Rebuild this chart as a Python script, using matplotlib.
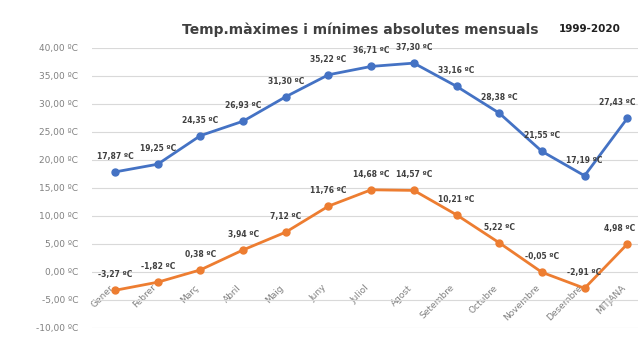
import matplotlib
matplotlib.use("Agg")
import matplotlib.pyplot as plt

months = ["Gener", "Febrer", "Març", "Abril", "Maig", "Juny", "Juliol", "Agost",
          "Setembre", "Octubre", "Novembre", "Desembre", "MITJANA"]
t_max = [17.87, 19.25, 24.35, 26.93, 31.30, 35.22, 36.71, 37.30, 33.16, 28.38, 21.55, 17.19, 27.43]
t_min = [-3.27, -1.82, 0.38, 3.94, 7.12, 11.76, 14.68, 14.57, 10.21, 5.22, -0.05, -2.91, 4.98]
y_ticks = [-10, -5, 0, 5, 10, 15, 20, 25, 30, 35, 40]

BLUE = "#4472C4"
ORANGE = "#ED7D31"
W, H = 638, 351

fig = plt.figure(figsize=(W / 100, H / 100), dpi=100)
fig.patch.set_facecolor("white")

x0, x1 = 92, 652
ax = fig.add_axes([x0 / W, (H - 328) / H, (x1 - x0) / W, 280 / H])
xs = list(range(len(months)))
ax.set_xlim(-0.54, 12.58)
ax.set_ylim(-10, 40)

ax.plot(xs, t_max, color=BLUE, lw=2, marker="o", ms=5, zorder=3)
ax.plot(xs, t_min, color=ORANGE, lw=2, marker="o", ms=5, zorder=3)


def fmt(v):
    return f"{v:.2f}".replace(".", ",") + " ºC"


def label_series(values):
    last = len(values) - 1
    for x, v in zip(xs, values):
        if x == last:
            # keep the final label inside the figure edge
            ax.annotate(fmt(v), (x, v), xytext=(6, 8), textcoords="offset points",
                        ha="right", va="bottom", fontsize=5.5, fontweight="bold",
                        color="#404040", annotation_clip=False)
        else:
            ax.annotate(fmt(v), (x, v), xytext=(0, 8), textcoords="offset points",
                        ha="center", va="bottom", fontsize=5.5, fontweight="bold",
                        color="#404040", annotation_clip=False)


label_series(t_max)
label_series(t_min)

ax.set_yticks(y_ticks)
ax.set_yticklabels([fmt(v) for v in y_ticks], fontsize=6.5, color="#808080")
ax.yaxis.grid(True, color="#D9D9D9", lw=0.8)
ax.set_axisbelow(True)
ax.tick_params(axis="y", length=0, pad=10)

# category axis crossing at zero
ax.spines["bottom"].set_position(("data", 0))
for s in ["top", "right", "left", "bottom"]:
    ax.spines[s].set_visible(False)
ax.set_xticks(xs)
ax.set_xticklabels(months, rotation=45, ha="right", va="top",
                   fontsize=6.5, color="#808080")
ax.tick_params(axis="x", length=0, pad=8)

fig.text(360 / W, 1 - 30 / H, "Temp.màximes i mínimes absolutes mensuals",
         ha="center", va="center", fontsize=10, fontweight="bold", color="#404040")
fig.text(590 / W, 1 - 29 / H, "1999-2020", ha="center", va="center",
         fontsize=7.5, fontweight="bold", color="#202020")

fig.savefig("out.png", dpi=100, facecolor="white")
